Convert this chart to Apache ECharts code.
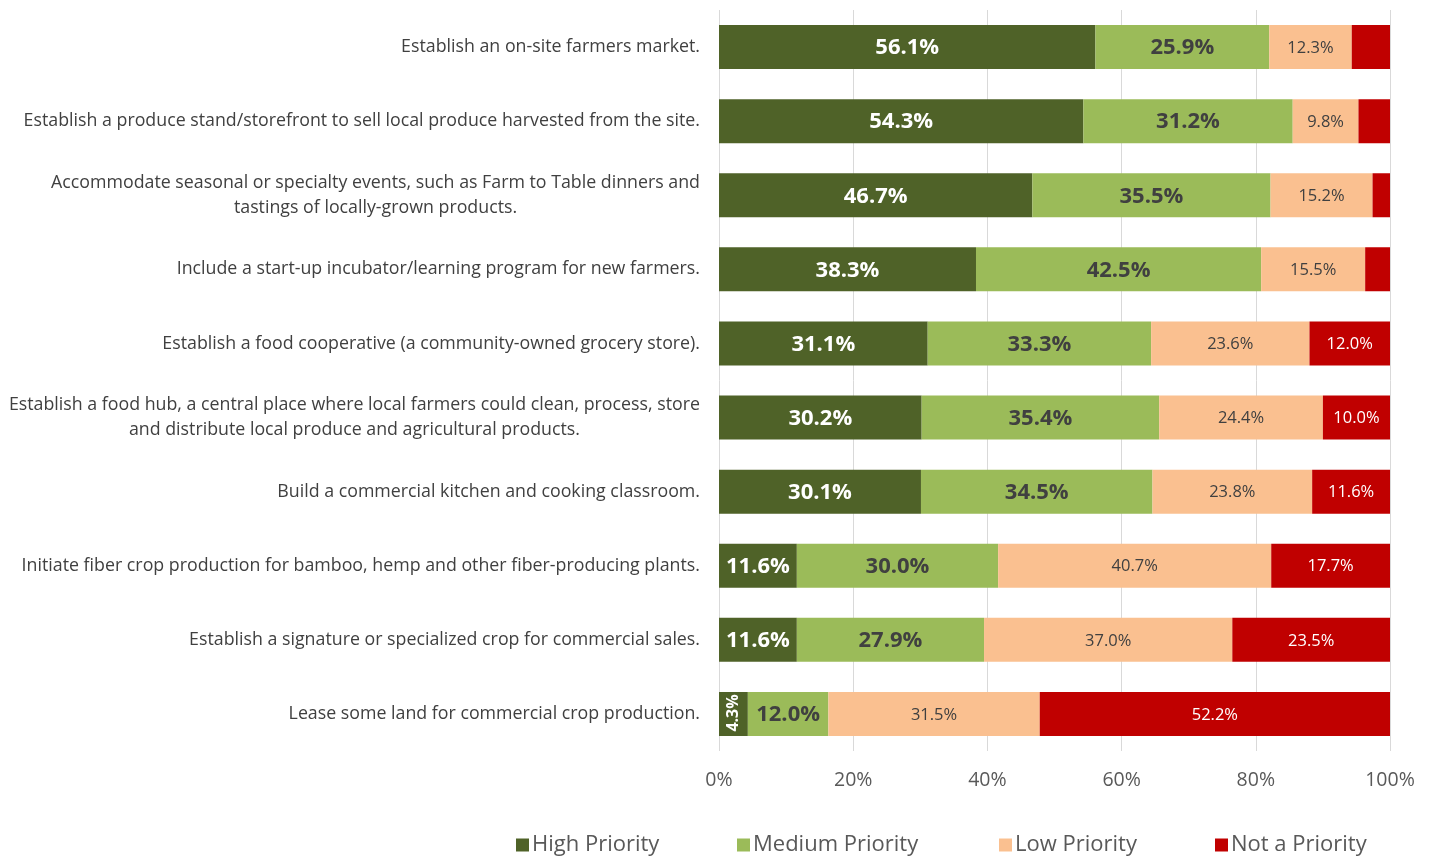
<!DOCTYPE html>
<html>
<head>
<meta charset="utf-8">
<script src="https://cdn.jsdelivr.net/npm/echarts@6/dist/echarts.min.js"></script>
<style>
html,body{margin:0;padding:0;background:#fff;}
#chart{width:1434px;height:857px;}
</style>
</head>
<body>
<div id="chart"></div>
<script>
var categories = [
  "Establish an on-site farmers market.",
  "Establish a produce stand/storefront to sell local produce harvested from the site.",
  "Accommodate seasonal or specialty events, such as Farm to Table dinners and\ntastings of locally-grown products.",
  "Include a start-up incubator/learning program for new farmers.",
  "Establish a food cooperative (a community-owned grocery store).",
  "Establish a food hub, a central place where local farmers could clean, process, store\nand distribute local produce and agricultural products.",
  "Build a commercial kitchen and cooking classroom.",
  "Initiate fiber crop production for bamboo, hemp and other fiber-producing plants.",
  "Establish a signature or specialized crop for commercial sales.",
  "Lease some land for commercial crop production."
];
var seriesNames = ["High Priority", "Medium Priority", "Low Priority", "Not a Priority"];
var highPriority   = [56.1, 54.3, 46.7, 38.3, 31.1, 30.2, 30.1, 11.6, 11.6, 4.3];
var mediumPriority = [25.9, 31.2, 35.5, 42.5, 33.3, 35.4, 34.5, 30.0, 27.9, 12.0];
var lowPriority    = [12.3, 9.8, 15.2, 15.5, 23.6, 24.4, 23.8, 40.7, 37.0, 31.5];
var notPriority    = [5.7, 4.7, 2.6, 3.7, 12.0, 10.0, 11.6, 17.7, 23.5, 52.2];
var tickLabels = ["0%", "20%", "40%", "60%", "80%", "100%"];

var FONT = "'Open Sans', sans-serif";
var colors = ["#4f6228", "#9bbb59", "#fac090", "#c00000"];
var labelStyles = [
  {color: "#ffffff", fontWeight: "bold", fontSize: 22},
  {color: "#404040", fontWeight: "bold", fontSize: 22},
  {color: "#404040", fontWeight: "normal", fontSize: 16.5},
  {color: "#ffffff", fontWeight: "normal", fontSize: 16.5}
];
var allData = [highPriority, mediumPriority, lowPriority, notPriority];

var series = allData.map(function (arr, si) {
  return {
    name: seriesNames[si],
    type: "bar",
    stack: "total",
    barWidth: 44,
    itemStyle: {color: colors[si]},
    label: {
      show: true,
      position: "inside",
      offset: [0, 1],
      fontFamily: FONT,
      color: labelStyles[si].color,
      fontWeight: labelStyles[si].fontWeight,
      fontSize: labelStyles[si].fontSize,
      formatter: function (p) {
        if (si === 3 && p.value < 8) return "";
        return p.value.toFixed(1) + "%";
      }
    },
    data: arr.map(function (v) {
      if (si === 0 && v < 6) {
        return {value: v, label: {rotate: 90, fontSize: 16, offset: [1, 0]}};
      }
      return v;
    })
  };
});

var legendX = [516, 737, 999, 1215];
var legends = seriesNames.map(function (n, i) {
  return {
    data: [n],
    left: legendX[i],
    top: 834,
    padding: 0,
    itemWidth: 13,
    itemHeight: 13,
    itemGap: 6,
    icon: "rect",
    textStyle: {fontFamily: FONT, fontSize: 22, color: "#595959", padding: [0, 0, 0, -2]}
  };
});

var chart = echarts.init(document.getElementById("chart"));
chart.setOption({
  backgroundColor: "#ffffff",
  animation: false,
  grid: {left: 719, right: 44, top: 10, bottom: 106},
  legend: legends,
  xAxis: {
    type: "value",
    min: 0,
    max: 100,
    interval: 20,
    axisLine: {show: false},
    axisTick: {show: false},
    splitLine: {show: true, lineStyle: {color: "#d9d9d9", width: 1}},
    axisLabel: {
      fontFamily: FONT,
      fontSize: 19.5,
      color: "#595959",
      margin: 19,
      formatter: function (v) { return tickLabels[Math.round(v / 20)]; }
    }
  },
  yAxis: {
    type: "category",
    inverse: true,
    data: categories,
    axisLine: {show: false},
    axisTick: {show: false},
    axisLabel: {
      margin: 19,
      fontFamily: FONT,
      fontSize: 17.8,
      color: "#404040",
      lineHeight: 25,
      formatter: function (v) {
        return v.split("\n").map(function (s) { return "{c|" + s + "}"; }).join("\n");
      },
      rich: {
        c: {align: "center", fontFamily: FONT, fontSize: 17.8, color: "#404040", lineHeight: 25}
      }
    }
  },
  series: series
});
</script>
</body>
</html>
